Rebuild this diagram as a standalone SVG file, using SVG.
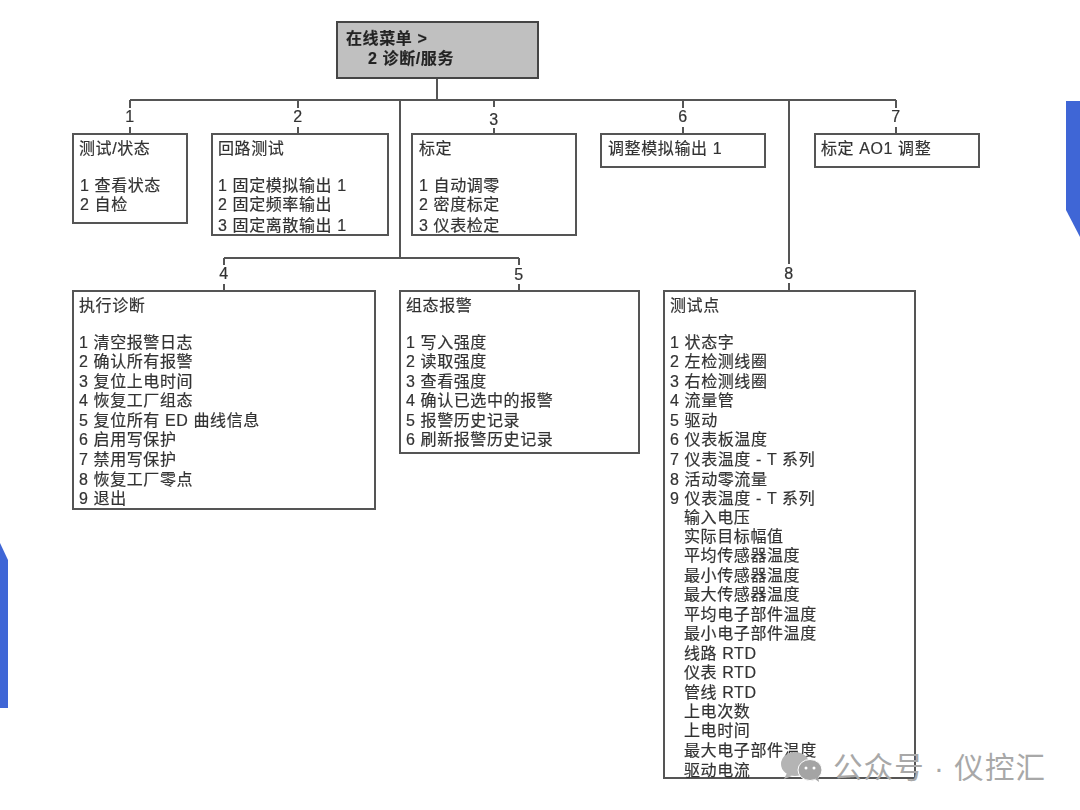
<svg xmlns="http://www.w3.org/2000/svg" width="1080" height="810" viewBox="0 0 1080 810">
<style>
text{font-family:"Liberation Sans","Noto Sans CJK SC",sans-serif;font-size:16px;letter-spacing:.6px;fill:#333;stroke:#333;stroke-width:.2px}
.b{fill:#fff;stroke:#555;stroke-width:2}
.c{fill:none;stroke:#555;stroke-width:2}
.n{text-anchor:middle}
.r{font-weight:bold;fill:#222}
.w{font-size:29.500px;fill:#a8a8a8;stroke:none;letter-spacing:1.100px}
.soft{filter:url(#s)}
</style>
<defs><filter id="s" x="-2%" y="-2%" width="104%" height="104%"><feGaussianBlur stdDeviation="0.6"/></filter></defs>
<rect width="1080" height="810" fill="#fff"/>
<polygon points="0,543 8,560 8,708 0,708" fill="#3f66d6"/>
<polygon points="1066,101 1080,101 1080,237 1066,210" fill="#3f66d6"/>
<g class="soft">
<g id="connectors">
<path class="c" d="M437 78V100M130 100H896M130 100V108M130 127V134M298 100V108M298 127V134M494 100V107M494 128V134M683 100V108M683 127V134M896 100V108M896 127V134M400 100V258M224 258H519M224 258V265M224 284V291M519 258V265M519 284V291M789 100V264M789 283V291"/>
<text class="n" x="130" y="122">1</text><text class="n" x="298" y="122">2</text><text class="n" x="494" y="125">3</text><text class="n" x="683" y="122">6</text><text class="n" x="896" y="122">7</text><text class="n" x="224" y="279">4</text><text class="n" x="519" y="280">5</text><text class="n" x="789" y="279">8</text>
</g>
<g id="root"><rect x="337" y="22" width="201" height="56" fill="#c0c0c0" stroke="#444" stroke-width="2"/><text class="r" x="346" y="44">在线菜单 &gt;</text><text class="r" x="368" y="64">2 诊断/服务</text></g>
<g id="n1"><rect class="b" x="73" y="134" width="114" height="89"/><text x="79" y="154">测试/状态</text><text x="80" y="191">1 查看状态</text><text x="80" y="210">2 自检</text></g>
<g id="n2"><rect class="b" x="212" y="134" width="176" height="101"/><text x="218" y="154">回路测试</text><text x="218" y="191">1 固定模拟输出 1</text><text x="218" y="210">2 固定频率输出</text><text x="218" y="231">3 固定离散输出 1</text></g>
<g id="n3"><rect class="b" x="412" y="134" width="164" height="101"/><text x="419" y="154">标定</text><text x="419" y="191">1 自动调零</text><text x="419" y="210">2 密度标定</text><text x="419" y="231">3 仪表检定</text></g>
<g id="n6"><rect class="b" x="601" y="134" width="164" height="33"/><text x="608" y="154">调整模拟输出 1</text></g>
<g id="n7"><rect class="b" x="815" y="134" width="164" height="33"/><text x="821" y="154">标定 AO1 调整</text></g>
<g id="n4"><rect class="b" x="73" y="291" width="302" height="218"/><text x="79" y="311">执行诊断</text><text x="79" y="348">1 清空报警日志</text><text x="79" y="367">2 确认所有报警</text><text x="79" y="387">3 复位上电时间</text><text x="79" y="406">4 恢复工厂组态</text><text x="79" y="426">5 复位所有 ED 曲线信息</text><text x="79" y="445">6 启用写保护</text><text x="79" y="465">7 禁用写保护</text><text x="79" y="485">8 恢复工厂零点</text><text x="79" y="504">9 退出</text></g>
<g id="n5"><rect class="b" x="400" y="291" width="239" height="162"/><text x="406" y="311">组态报警</text><text x="406" y="348">1 写入强度</text><text x="406" y="367">2 读取强度</text><text x="406" y="387">3 查看强度</text><text x="406" y="406">4 确认已选中的报警</text><text x="406" y="426">5 报警历史记录</text><text x="406" y="445">6 刷新报警历史记录</text></g>
<g id="n8"><rect class="b" x="664" y="291" width="251" height="487"/><text x="670" y="311">测试点</text><text x="670" y="348">1 状态字</text><text x="670" y="367">2 左检测线圈</text><text x="670" y="387">3 右检测线圈</text><text x="670" y="406">4 流量管</text><text x="670" y="426">5 驱动</text><text x="670" y="445">6 仪表板温度</text><text x="670" y="465">7 仪表温度 - T 系列</text><text x="670" y="485">8 活动零流量</text><text x="670" y="504">9 仪表温度 - T 系列</text><text x="684" y="523">输入电压</text><text x="684" y="542">实际目标幅值</text><text x="684" y="561">平均传感器温度</text><text x="684" y="581">最小传感器温度</text><text x="684" y="600">最大传感器温度</text><text x="684" y="620">平均电子部件温度</text><text x="684" y="639">最小电子部件温度</text><text x="684" y="659">线路 RTD</text><text x="684" y="678">仪表 RTD</text><text x="684" y="698">管线 RTD</text><text x="684" y="717">上电次数</text><text x="684" y="736">上电时间</text><text x="684" y="756">最大电子部件温度</text><text x="684" y="776">驱动电流</text></g>
</g>
<g id="watermark">
<ellipse cx="795" cy="764" rx="14" ry="12" fill="#b4b4b4"/><path d="M787 773l-3 6 8-3z" fill="#b4b4b4"/>
<ellipse cx="810" cy="770" rx="12" ry="10.500" fill="#a4a4a4" stroke="#fff" stroke-width="1"/><path d="M815 779l4 3-1-6z" fill="#a4a4a4"/>
<circle cx="806" cy="768" r="1.500" fill="#fff"/><circle cx="814" cy="768" r="1.500" fill="#fff"/>
<text class="w" x="833" y="778">公众号 · 仪控汇</text>
</g>
</svg>
